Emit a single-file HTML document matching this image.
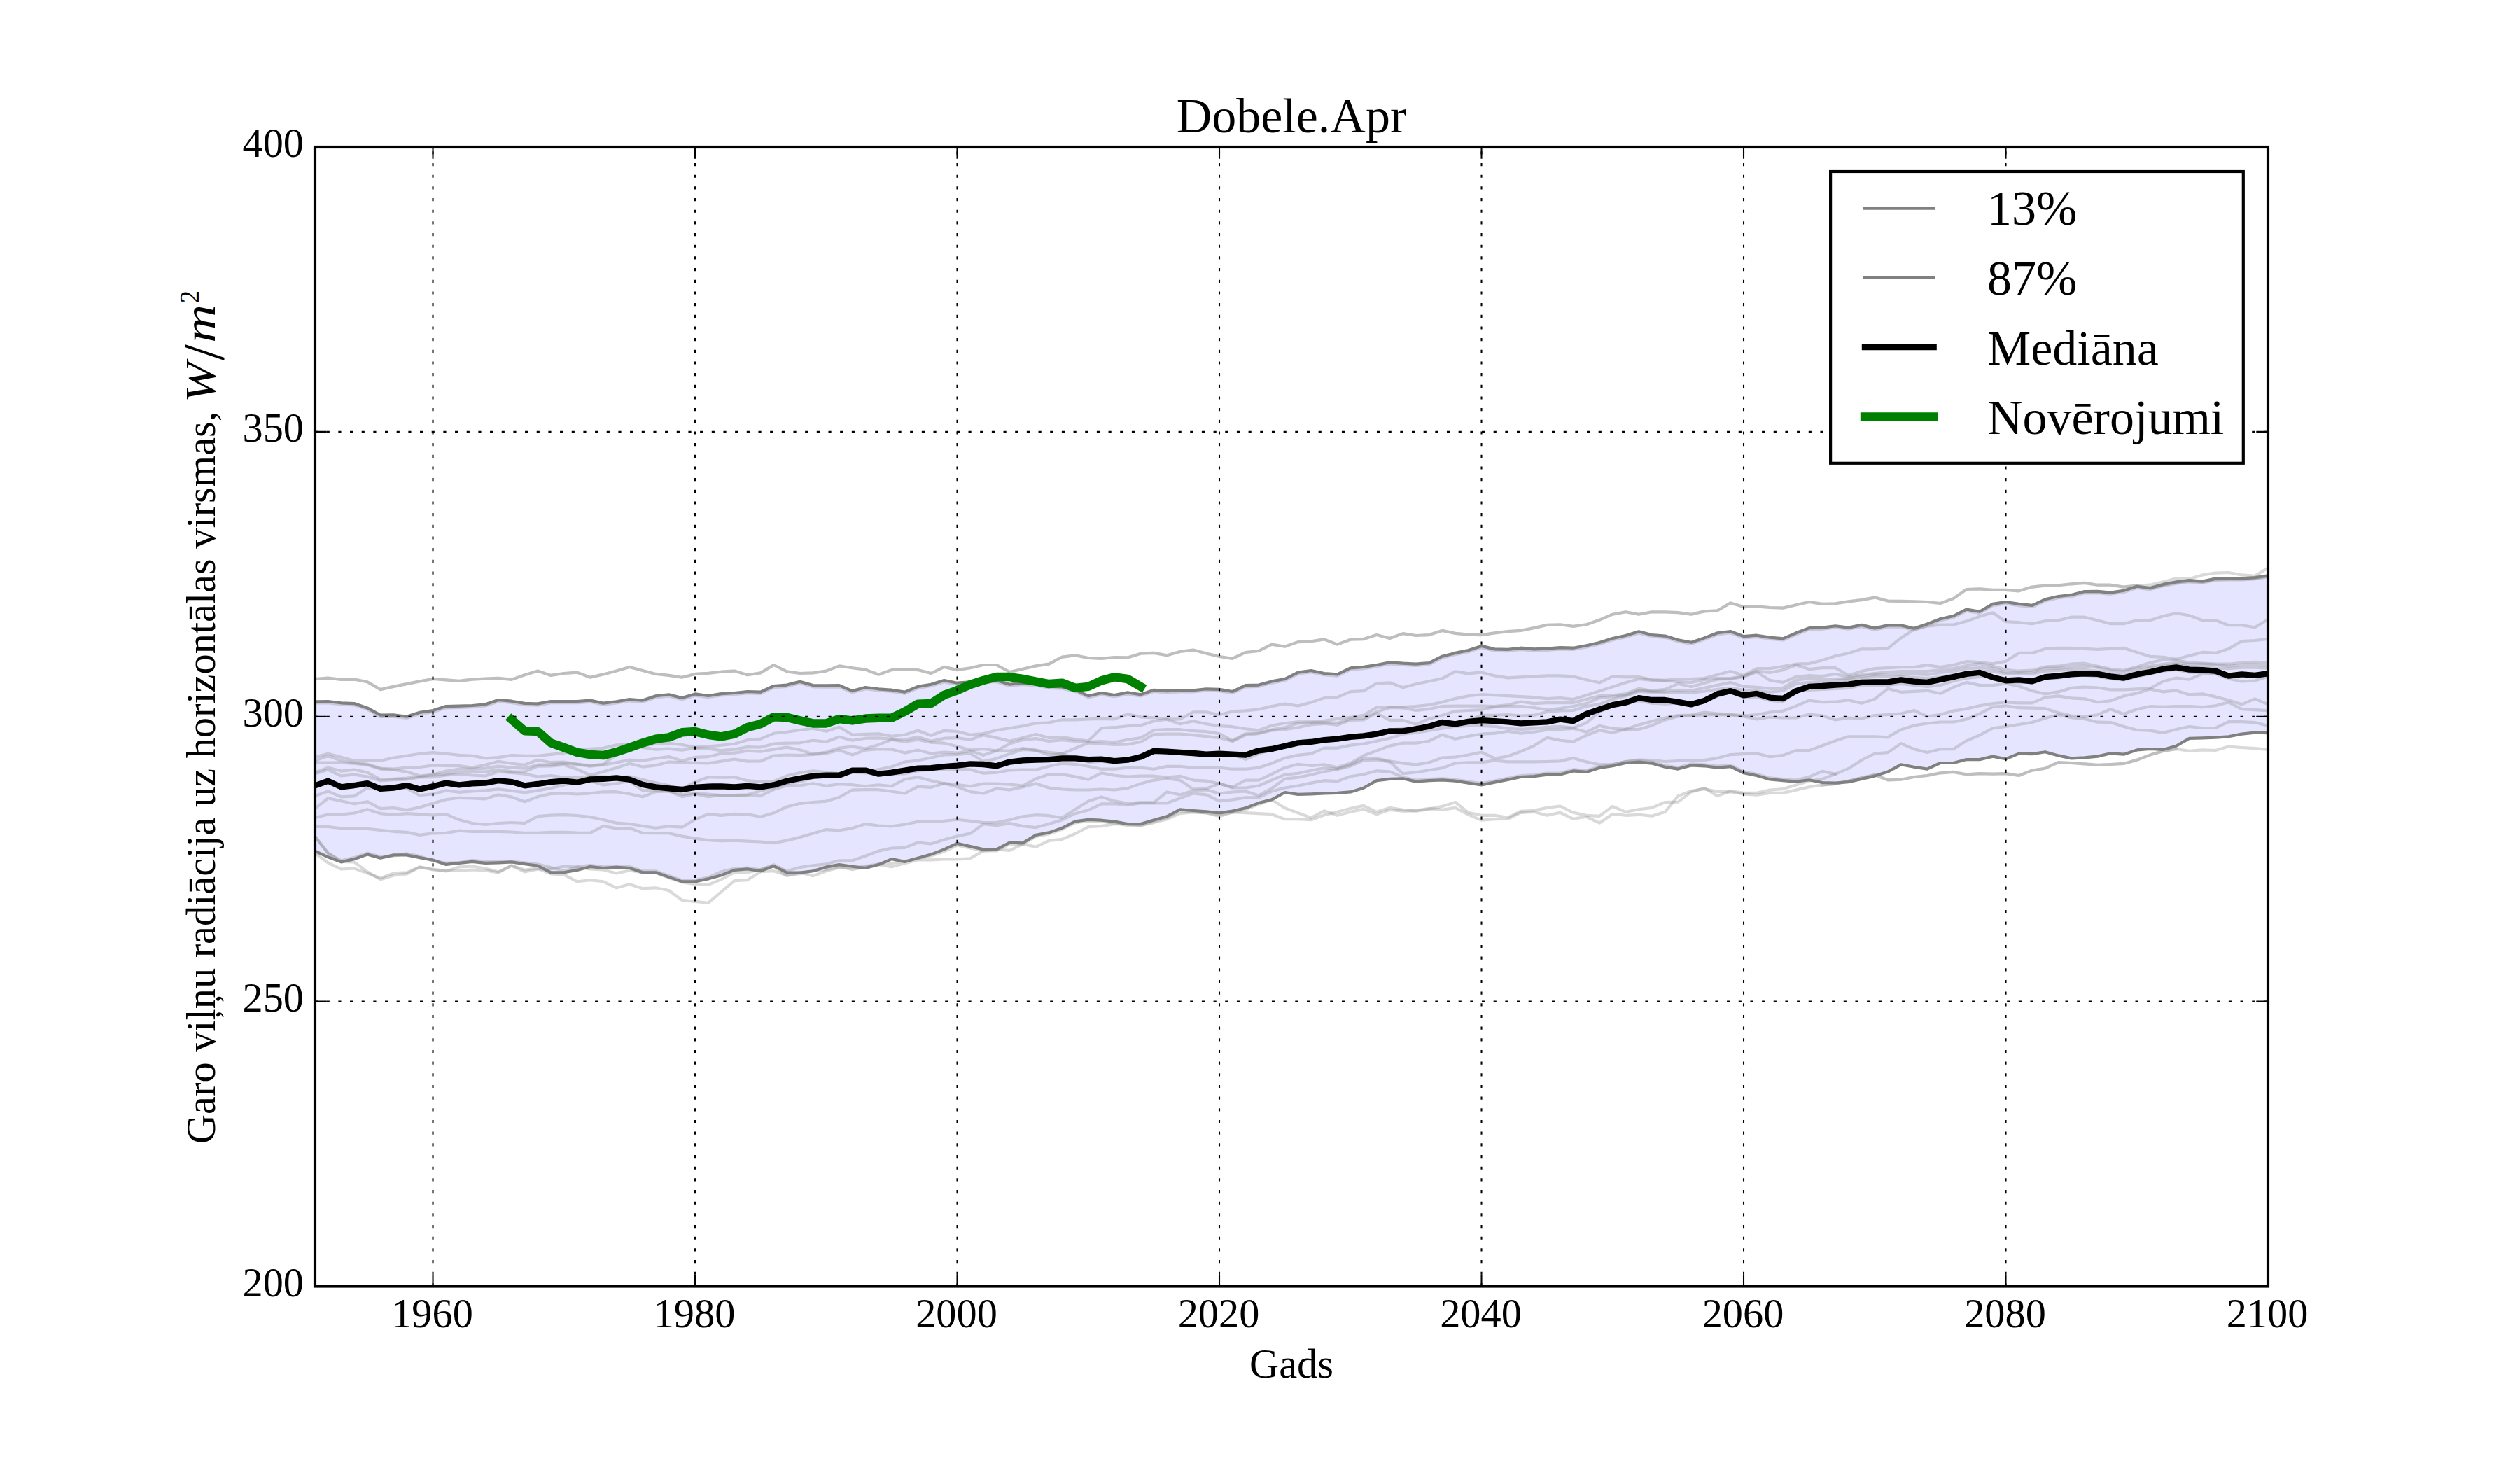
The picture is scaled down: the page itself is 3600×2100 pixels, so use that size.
<!DOCTYPE html>
<html lang="lv"><head><meta charset="utf-8"><title>Dobele.Apr</title>
<style>
html,body{margin:0;padding:0;background:#fff;}
body{width:3600px;height:2100px;overflow:hidden;}
svg{display:block;}
text{font-family:"Liberation Serif","DejaVu Serif",serif;fill:#000;}
.t14{font-size:58.33px;}
.t16{font-size:70px;}
.grid{stroke:#000;stroke-width:2.08;stroke-dasharray:4.17 12.5;fill:none;}
.tick{stroke:#000;stroke-width:2.08;fill:none;}
.faint{stroke:#808080;stroke-opacity:0.3;stroke-width:4.17;fill:none;stroke-linejoin:round;stroke-linecap:square;}
.bound{stroke:#808080;stroke-width:4.17;fill:none;stroke-linejoin:round;stroke-linecap:square;}
</style></head><body>
<svg width="3600" height="2100" viewBox="0 0 3600 2100">
<rect x="0" y="0" width="3600" height="2100" fill="#fff"/>
<defs><clipPath id="ax"><rect x="450" y="210" width="2790" height="1627.5"/></clipPath></defs>
<g clip-path="url(#ax)">
<polygon points="450.0,1002.3 468.7,1002.0 487.4,1004.3 506.2,1005.1 524.9,1011.4 543.6,1021.7 562.3,1021.4 581.1,1023.7 599.8,1017.7 618.5,1015.1 637.2,1009.1 656.0,1008.6 674.7,1008.0 693.4,1006.3 712.1,1000.0 730.9,1001.7 749.6,1004.9 768.3,1005.4 787.0,1002.0 805.8,1002.0 824.5,1002.0 843.2,1000.6 861.9,1004.6 880.7,1002.3 899.4,999.1 918.1,1000.6 936.8,994.3 955.6,992.3 974.3,997.1 993.0,991.4 1011.7,994.0 1030.5,991.1 1049.2,990.0 1067.9,988.0 1086.6,988.6 1105.4,980.0 1124.1,978.6 1142.8,973.7 1161.5,979.1 1180.3,979.4 1199.0,979.1 1217.7,987.1 1236.4,982.0 1255.2,984.3 1273.9,985.7 1292.6,988.6 1311.3,980.9 1330.1,977.7 1348.8,972.0 1367.5,975.7 1386.2,974.3 1405.0,972.0 1423.7,972.0 1442.4,977.7 1461.1,975.7 1479.9,977.1 1498.6,980.6 1517.3,981.4 1536.0,985.7 1554.8,994.2 1573.5,990.0 1592.2,993.0 1610.9,989.4 1629.7,992.2 1648.4,985.8 1667.1,987.2 1685.8,986.3 1704.6,986.3 1723.3,984.3 1742.0,984.9 1760.7,988.0 1779.5,979.1 1798.2,978.6 1816.9,973.4 1835.6,970.0 1854.4,960.6 1873.1,958.0 1891.8,962.0 1910.5,963.4 1929.3,954.3 1948.0,952.9 1966.7,950.0 1985.4,946.3 2004.2,947.7 2022.9,948.6 2041.6,947.1 2060.3,937.7 2079.1,932.9 2097.8,929.1 2116.5,922.9 2135.2,927.4 2154.0,927.9 2172.7,925.7 2191.4,927.4 2210.1,926.6 2228.9,925.1 2247.6,925.7 2266.3,922.3 2285.0,918.0 2303.8,912.0 2322.5,908.0 2341.2,902.3 2359.9,907.1 2378.7,908.6 2397.4,914.3 2416.1,917.7 2434.8,911.4 2453.6,904.3 2472.3,902.0 2491.0,909.1 2509.7,907.7 2528.5,910.6 2547.2,912.3 2565.9,904.3 2584.6,897.1 2603.4,896.6 2622.1,894.3 2640.8,896.6 2659.5,892.9 2678.3,897.4 2697.0,893.4 2715.7,893.4 2734.4,897.7 2753.2,891.4 2771.9,884.3 2790.6,880.0 2809.3,870.6 2828.1,873.7 2846.8,862.9 2865.5,860.0 2884.2,862.9 2903.0,864.9 2921.7,856.3 2940.4,852.0 2959.1,850.0 2977.9,845.1 2996.6,844.9 3015.3,846.6 3034.0,843.7 3052.8,837.7 3071.5,840.0 3090.2,834.9 3108.9,831.4 3127.7,829.1 3146.4,830.6 3165.1,826.6 3183.8,826.3 3202.6,826.3 3221.3,825.1 3240.0,822.3 3240.0,1047.1 3221.3,1046.6 3202.6,1048.6 3183.8,1052.3 3165.1,1053.7 3146.4,1054.3 3127.7,1054.9 3108.9,1065.7 3090.2,1070.9 3071.5,1070.0 3052.8,1071.4 3034.0,1077.7 3015.3,1076.3 2996.6,1080.6 2977.9,1082.3 2959.1,1083.4 2940.4,1079.4 2921.7,1074.3 2903.0,1077.1 2884.2,1076.6 2865.5,1084.3 2846.8,1080.6 2828.1,1085.1 2809.3,1085.1 2790.6,1090.0 2771.9,1090.0 2753.2,1098.6 2734.4,1095.7 2715.7,1092.3 2697.0,1102.6 2678.3,1108.6 2659.5,1112.9 2640.8,1117.1 2622.1,1118.6 2603.4,1118.0 2584.6,1114.3 2565.9,1116.6 2547.2,1115.1 2528.5,1113.4 2509.7,1108.0 2491.0,1104.3 2472.3,1095.1 2453.6,1096.6 2434.8,1094.3 2416.1,1093.4 2397.4,1098.6 2378.7,1095.7 2359.9,1090.6 2341.2,1088.6 2322.5,1090.0 2303.8,1094.3 2285.0,1097.1 2266.3,1102.9 2247.6,1101.4 2228.9,1106.6 2210.1,1106.6 2191.4,1109.1 2172.7,1110.0 2154.0,1113.9 2135.2,1117.6 2116.5,1121.4 2097.8,1118.6 2079.1,1115.7 2060.3,1114.3 2041.6,1115.1 2022.9,1116.6 2004.2,1112.3 1985.4,1112.9 1966.7,1115.1 1948.0,1125.7 1929.3,1131.4 1910.5,1132.9 1891.8,1133.4 1873.1,1134.3 1854.4,1134.9 1835.6,1132.0 1816.9,1142.3 1798.2,1147.1 1779.5,1154.3 1760.7,1158.6 1742.0,1161.4 1723.3,1159.4 1704.6,1158.0 1685.8,1156.3 1667.1,1166.3 1648.4,1171.4 1629.7,1177.1 1610.9,1177.1 1592.2,1173.6 1573.5,1171.7 1554.8,1170.9 1536.0,1173.4 1517.3,1182.9 1498.6,1189.4 1479.9,1192.9 1461.1,1204.3 1442.4,1203.7 1423.7,1213.4 1405.0,1213.4 1386.2,1209.1 1367.5,1204.9 1348.8,1213.4 1330.1,1220.6 1311.3,1225.7 1292.6,1230.9 1273.9,1227.1 1255.2,1235.1 1236.4,1240.0 1217.7,1237.7 1199.0,1235.1 1180.3,1238.6 1161.5,1244.3 1142.8,1246.6 1124.1,1246.3 1105.4,1237.1 1086.6,1244.3 1067.9,1241.4 1049.2,1242.9 1030.5,1250.3 1011.7,1255.4 993.0,1259.4 974.3,1259.4 955.6,1252.9 936.8,1246.3 918.1,1246.3 899.4,1240.0 880.7,1238.6 861.9,1240.0 843.2,1238.0 824.5,1242.9 805.8,1246.3 787.0,1246.3 768.3,1236.6 749.6,1234.3 730.9,1231.4 712.1,1232.3 693.4,1232.9 674.7,1230.9 656.0,1232.9 637.2,1234.9 618.5,1228.6 599.8,1225.1 581.1,1221.4 562.3,1221.4 543.6,1225.7 524.9,1220.6 506.2,1227.1 487.4,1231.4 468.7,1224.3 450.0,1215.7" fill="#0000ff" fill-opacity="0.1" stroke="none"/>
<path class="faint" d="M450.0,1081.7 L468.7,1076.8 L487.4,1081.7 L506.2,1086.7 L524.9,1086.7 L543.6,1086.7 L562.3,1082.5 L581.1,1079.8 L599.8,1076.8 L618.5,1075.2 L637.2,1076.8 L656.0,1078.9 L674.7,1079.8 L693.4,1083.3 L712.1,1082.1 L730.9,1079.1 L749.6,1079.8 L768.3,1079.8 L787.0,1077.9 L805.8,1075.8 L824.5,1072.2 L843.2,1069.8 L861.9,1068.8 L880.7,1064.4 L899.4,1063.9 L918.1,1065.5 L936.8,1062.7 L955.6,1061.7 L974.3,1064.0 L993.0,1067.6 L1011.7,1066.6 L1030.5,1064.7 L1049.2,1062.7 L1067.9,1057.2 L1086.6,1055.7 L1105.4,1047.8 L1124.1,1045.8 L1142.8,1043.0 L1161.5,1040.8 L1180.3,1044.8 L1199.0,1038.8 L1217.7,1049.8 L1236.4,1048.8 L1255.2,1048.4 L1273.9,1051.7 L1292.6,1049.8 L1311.3,1043.8 L1330.1,1050.8 L1348.8,1043.8 L1367.5,1045.0 L1386.2,1049.8 L1405.0,1048.1 L1423.7,1043.2 L1442.4,1040.2 L1461.1,1037.2 L1479.9,1033.3 L1498.6,1032.3 L1517.3,1028.3 L1536.0,1028.3 L1554.8,1027.3 L1573.5,1026.9 L1592.2,1027.3 L1610.9,1020.4 L1629.7,1024.3 L1648.4,1025.3 L1667.1,1027.3 L1685.8,1027.3 L1704.6,1017.4 L1723.3,1017.4 L1742.0,1021.3 L1760.7,1016.4 L1779.5,1015.4 L1798.2,1013.4 L1816.9,1009.1 L1835.6,1005.5 L1854.4,1008.5 L1873.1,1003.5 L1891.8,997.1 L1910.5,996.2 L1929.3,988.2 L1948.0,987.2 L1966.7,976.3 L1985.4,975.3 L2004.2,982.3 L2022.9,977.3 L2041.6,973.3 L2060.3,969.4 L2079.1,959.4 L2097.8,962.4 L2116.5,960.4 L2135.2,965.4 L2154.0,968.4 L2172.7,967.4 L2191.4,966.4 L2210.1,965.4 L2228.9,965.4 L2247.6,966.4 L2266.3,971.3 L2285.0,975.3 L2303.8,966.4 L2322.5,967.4 L2341.2,967.0 L2359.9,971.0 L2378.7,971.9 L2397.4,970.0 L2416.1,970.0 L2434.8,969.0 L2453.6,964.0 L2472.3,959.0 L2491.0,965.0 L2509.7,955.1 L2528.5,955.1 L2547.2,952.1 L2565.9,948.7 L2584.6,948.1 L2603.4,943.2 L2622.1,937.2 L2640.8,933.3 L2659.5,927.3 L2678.3,927.3 L2697.0,926.3 L2715.7,911.4 L2734.4,899.5 L2753.2,894.6 L2771.9,892.6 L2790.6,892.6 L2809.3,887.6 L2828.1,880.7 L2846.8,875.3 L2865.5,888.2 L2884.2,889.2 L2903.0,891.2 L2921.7,887.2 L2940.4,886.2 L2959.1,881.7 L2977.9,881.7 L2996.6,886.2 L3015.3,891.2 L3034.0,891.2 L3052.8,886.2 L3071.5,886.2 L3090.2,880.3 L3108.9,876.3 L3127.7,879.3 L3146.4,886.2 L3165.1,886.2 L3183.8,893.2 L3202.6,893.2 L3221.3,896.2 L3240.0,885.2"/>
<path class="faint" d="M450.0,1086.7 L468.7,1079.8 L487.4,1086.7 L506.2,1089.7 L524.9,1091.7 L543.6,1097.6 L562.3,1098.6 L581.1,1096.6 L599.8,1096.0 L618.5,1093.4 L637.2,1094.0 L656.0,1094.1 L674.7,1096.6 L693.4,1092.7 L712.1,1087.7 L730.9,1090.7 L749.6,1092.7 L768.3,1085.7 L787.0,1089.2 L805.8,1088.7 L824.5,1091.5 L843.2,1093.7 L861.9,1091.7 L880.7,1078.3 L899.4,1065.9 L918.1,1067.9 L936.8,1070.6 L955.6,1069.6 L974.3,1071.6 L993.0,1068.6 L1011.7,1069.6 L1030.5,1072.2 L1049.2,1070.6 L1067.9,1067.1 L1086.6,1067.6 L1105.4,1062.7 L1124.1,1061.7 L1142.8,1061.3 L1161.5,1057.7 L1180.3,1059.7 L1199.0,1052.7 L1217.7,1057.7 L1236.4,1054.7 L1255.2,1054.3 L1273.9,1055.7 L1292.6,1056.7 L1311.3,1052.7 L1330.1,1058.7 L1348.8,1054.7 L1367.5,1054.1 L1386.2,1056.7 L1405.0,1050.1 L1423.7,1054.1 L1442.4,1058.7 L1461.1,1054.1 L1479.9,1049.1 L1498.6,1054.1 L1517.3,1053.1 L1536.0,1056.1 L1554.8,1058.5 L1573.5,1040.2 L1592.2,1039.2 L1610.9,1037.2 L1629.7,1036.2 L1648.4,1030.3 L1667.1,1027.7 L1685.8,1034.2 L1704.6,1030.3 L1723.3,1034.2 L1742.0,1037.2 L1760.7,1038.2 L1779.5,1041.2 L1798.2,1043.2 L1816.9,1036.5 L1835.6,1033.3 L1854.4,1031.3 L1873.1,1031.3 L1891.8,1029.9 L1910.5,1026.9 L1929.3,1024.9 L1948.0,1021.9 L1966.7,1010.6 L1985.4,1010.0 L2004.2,1010.0 L2022.9,1009.0 L2041.6,1007.1 L2060.3,1003.1 L2079.1,998.1 L2097.8,994.2 L2116.5,992.2 L2135.2,993.2 L2154.0,994.2 L2172.7,995.2 L2191.4,996.2 L2210.1,998.1 L2228.9,997.1 L2247.6,999.1 L2266.3,993.2 L2285.0,987.2 L2303.8,981.3 L2322.5,975.3 L2341.2,970.0 L2359.9,971.9 L2378.7,972.5 L2397.4,973.9 L2416.1,974.9 L2434.8,971.0 L2453.6,969.0 L2472.3,969.0 L2491.0,966.0 L2509.7,958.7 L2528.5,961.0 L2547.2,957.1 L2565.9,950.3 L2584.6,956.1 L2603.4,954.1 L2622.1,954.1 L2640.8,965.0 L2659.5,959.0 L2678.3,955.1 L2697.0,954.1 L2715.7,953.1 L2734.4,953.1 L2753.2,950.1 L2771.9,953.1 L2790.6,950.1 L2809.3,945.2 L2828.1,946.2 L2846.8,948.3 L2865.5,944.8 L2884.2,932.9 L2903.0,932.9 L2921.7,926.9 L2940.4,925.9 L2959.1,925.9 L2977.9,926.9 L2996.6,927.9 L3015.3,926.9 L3034.0,925.9 L3052.8,931.9 L3071.5,937.8 L3090.2,938.8 L3108.9,941.8 L3127.7,936.8 L3146.4,931.9 L3165.1,932.9 L3183.8,926.9 L3202.6,916.0 L3221.3,915.0 L3240.0,913.0"/>
<path class="faint" d="M450.0,1089.7 L468.7,1089.7 L487.4,1089.7 L506.2,1090.7 L524.9,1092.7 L543.6,1098.6 L562.3,1099.8 L581.1,1102.6 L599.8,1108.5 L618.5,1106.5 L637.2,1101.6 L656.0,1098.7 L674.7,1098.6 L693.4,1097.6 L712.1,1094.6 L730.9,1096.5 L749.6,1097.6 L768.3,1092.7 L787.0,1092.3 L805.8,1090.7 L824.5,1092.1 L843.2,1094.6 L861.9,1092.7 L880.7,1089.4 L899.4,1085.7 L918.1,1086.7 L936.8,1083.5 L955.6,1081.1 L974.3,1087.1 L993.0,1081.9 L1011.7,1081.1 L1030.5,1076.4 L1049.2,1075.6 L1067.9,1072.6 L1086.6,1073.6 L1105.4,1070.6 L1124.1,1067.6 L1142.8,1071.3 L1161.5,1077.5 L1180.3,1074.6 L1199.0,1068.6 L1217.7,1066.6 L1236.4,1069.6 L1255.2,1063.9 L1273.9,1056.7 L1292.6,1059.7 L1311.3,1056.7 L1330.1,1060.7 L1348.8,1061.7 L1367.5,1066.3 L1386.2,1071.6 L1405.0,1070.0 L1423.7,1072.5 L1442.4,1062.6 L1461.1,1057.1 L1479.9,1055.1 L1498.6,1059.0 L1517.3,1057.1 L1536.0,1059.0 L1554.8,1060.0 L1573.5,1059.0 L1592.2,1060.6 L1610.9,1056.7 L1629.7,1054.1 L1648.4,1043.2 L1667.1,1042.2 L1685.8,1042.2 L1704.6,1044.2 L1723.3,1045.2 L1742.0,1048.1 L1760.7,1058.1 L1779.5,1048.1 L1798.2,1047.1 L1816.9,1042.4 L1835.6,1039.2 L1854.4,1033.3 L1873.1,1032.3 L1891.8,1032.3 L1910.5,1032.9 L1929.3,1026.9 L1948.0,1025.9 L1966.7,1017.0 L1985.4,1011.0 L2004.2,1011.4 L2022.9,1015.0 L2041.6,1013.0 L2060.3,1009.0 L2079.1,1008.7 L2097.8,1008.7 L2116.5,1008.7 L2135.2,1009.0 L2154.0,1007.1 L2172.7,1002.5 L2191.4,1005.1 L2210.1,1004.1 L2228.9,1004.1 L2247.6,1004.1 L2266.3,999.1 L2285.0,994.2 L2303.8,993.2 L2322.5,991.2 L2341.2,983.8 L2359.9,986.8 L2378.7,984.8 L2397.4,976.9 L2416.1,980.9 L2434.8,975.9 L2453.6,970.4 L2472.3,970.0 L2491.0,967.0 L2509.7,960.0 L2528.5,971.9 L2547.2,974.9 L2565.9,967.0 L2584.6,965.0 L2603.4,966.0 L2622.1,963.0 L2640.8,967.0 L2659.5,964.0 L2678.3,962.0 L2697.0,960.0 L2715.7,959.0 L2734.4,959.0 L2753.2,959.0 L2771.9,957.1 L2790.6,955.1 L2809.3,951.1 L2828.1,948.1 L2846.8,951.7 L2865.5,956.7 L2884.2,958.7 L2903.0,957.7 L2921.7,952.7 L2940.4,951.7 L2959.1,948.7 L2977.9,947.7 L2996.6,951.7 L3015.3,955.7 L3034.0,957.7 L3052.8,952.7 L3071.5,946.7 L3090.2,942.8 L3108.9,942.8 L3127.7,946.7 L3146.4,947.7 L3165.1,948.7 L3183.8,948.7 L3202.6,946.7 L3221.3,945.8 L3240.0,946.7"/>
<path class="faint" d="M450.0,1103.6 L468.7,1096.6 L487.4,1101.6 L506.2,1099.6 L524.9,1103.6 L543.6,1113.5 L562.3,1112.9 L581.1,1111.5 L599.8,1109.5 L618.5,1107.3 L637.2,1105.6 L656.0,1103.2 L674.7,1102.6 L693.4,1102.6 L712.1,1099.6 L730.9,1102.4 L749.6,1102.6 L768.3,1094.6 L787.0,1094.5 L805.8,1092.7 L824.5,1099.0 L843.2,1107.5 L861.9,1102.6 L880.7,1097.0 L899.4,1090.7 L918.1,1095.6 L936.8,1093.4 L955.6,1088.5 L974.3,1089.4 L993.0,1089.8 L1011.7,1090.4 L1030.5,1087.6 L1049.2,1084.5 L1067.9,1087.6 L1086.6,1087.5 L1105.4,1079.5 L1124.1,1078.5 L1142.8,1079.2 L1161.5,1077.9 L1180.3,1076.5 L1199.0,1071.6 L1217.7,1078.5 L1236.4,1071.6 L1255.2,1070.2 L1273.9,1070.6 L1292.6,1075.6 L1311.3,1071.6 L1330.1,1076.5 L1348.8,1074.6 L1367.5,1075.7 L1386.2,1072.6 L1405.0,1078.9 L1423.7,1072.5 L1442.4,1072.5 L1461.1,1069.0 L1479.9,1071.9 L1498.6,1074.9 L1517.3,1076.9 L1536.0,1069.0 L1554.8,1061.4 L1573.5,1062.6 L1592.2,1064.0 L1610.9,1063.4 L1629.7,1060.0 L1648.4,1049.1 L1667.1,1048.7 L1685.8,1048.7 L1704.6,1050.1 L1723.3,1052.1 L1742.0,1054.1 L1760.7,1059.0 L1779.5,1050.1 L1798.2,1048.1 L1816.9,1043.5 L1835.6,1042.2 L1854.4,1039.2 L1873.1,1035.2 L1891.8,1033.8 L1910.5,1035.8 L1929.3,1028.9 L1948.0,1028.5 L1966.7,1019.0 L1985.4,1028.9 L2004.2,1028.9 L2022.9,1034.8 L2041.6,1026.9 L2060.3,1021.9 L2079.1,1016.0 L2097.8,1015.0 L2116.5,1014.0 L2135.2,1010.0 L2154.0,1009.0 L2172.7,1009.0 L2191.4,1011.0 L2210.1,1014.0 L2228.9,1012.0 L2247.6,1009.0 L2266.3,1005.1 L2285.0,997.1 L2303.8,995.2 L2322.5,993.2 L2341.2,986.2 L2359.9,987.8 L2378.7,987.8 L2397.4,985.8 L2416.1,986.8 L2434.8,982.9 L2453.6,978.9 L2472.3,974.9 L2491.0,980.9 L2509.7,981.9 L2528.5,983.8 L2547.2,982.9 L2565.9,971.9 L2584.6,969.0 L2603.4,970.0 L2622.1,970.0 L2640.8,969.0 L2659.5,966.0 L2678.3,964.0 L2697.0,963.0 L2715.7,964.0 L2734.4,963.0 L2753.2,964.0 L2771.9,961.0 L2790.6,959.0 L2809.3,955.1 L2828.1,954.1 L2846.8,954.7 L2865.5,960.6 L2884.2,960.6 L2903.0,960.2 L2921.7,954.7 L2940.4,954.7 L2959.1,953.1 L2977.9,951.7 L2996.6,953.7 L3015.3,958.1 L3034.0,959.6 L3052.8,954.7 L3071.5,951.7 L3090.2,948.7 L3108.9,946.7 L3127.7,949.1 L3146.4,948.7 L3165.1,949.7 L3183.8,951.7 L3202.6,949.7 L3221.3,949.7 L3240.0,950.7"/>
<path class="faint" d="M450.0,1105.6 L468.7,1099.6 L487.4,1108.5 L506.2,1106.5 L524.9,1109.5 L543.6,1115.5 L562.3,1114.1 L581.1,1113.5 L599.8,1110.5 L618.5,1110.2 L637.2,1107.5 L656.0,1106.0 L674.7,1107.5 L693.4,1108.5 L712.1,1102.6 L730.9,1104.0 L749.6,1105.6 L768.3,1109.5 L787.0,1108.0 L805.8,1110.5 L824.5,1110.8 L843.2,1109.5 L861.9,1109.5 L880.7,1110.7 L899.4,1109.5 L918.1,1113.9 L936.8,1118.2 L955.6,1122.2 L974.3,1127.1 L993.0,1117.2 L1011.7,1110.3 L1030.5,1110.6 L1049.2,1110.3 L1067.9,1115.2 L1086.6,1116.8 L1105.4,1116.2 L1124.1,1108.3 L1142.8,1104.0 L1161.5,1101.3 L1180.3,1103.3 L1199.0,1105.3 L1217.7,1099.4 L1236.4,1101.3 L1255.2,1099.2 L1273.9,1095.4 L1292.6,1088.5 L1311.3,1086.5 L1330.1,1082.5 L1348.8,1078.5 L1367.5,1078.0 L1386.2,1076.5 L1405.0,1087.8 L1423.7,1083.8 L1442.4,1076.9 L1461.1,1071.0 L1479.9,1071.9 L1498.6,1078.9 L1517.3,1076.9 L1536.0,1082.9 L1554.8,1088.8 L1573.5,1087.8 L1592.2,1089.8 L1610.9,1085.8 L1629.7,1082.9 L1648.4,1074.9 L1667.1,1074.9 L1685.8,1075.9 L1704.6,1076.9 L1723.3,1076.9 L1742.0,1076.9 L1760.7,1077.9 L1779.5,1084.8 L1798.2,1076.9 L1816.9,1070.8 L1835.6,1064.0 L1854.4,1059.0 L1873.1,1057.1 L1891.8,1055.7 L1910.5,1053.7 L1929.3,1050.7 L1948.0,1048.7 L1966.7,1046.7 L1985.4,1042.8 L2004.2,1040.8 L2022.9,1040.8 L2041.6,1036.8 L2060.3,1035.8 L2079.1,1034.8 L2097.8,1028.9 L2116.5,1021.9 L2135.2,1021.9 L2154.0,1021.0 L2172.7,1022.5 L2191.4,1021.9 L2210.1,1017.0 L2228.9,1015.4 L2247.6,1015.0 L2266.3,1009.0 L2285.0,1006.1 L2303.8,999.1 L2322.5,994.2 L2341.2,987.8 L2359.9,988.8 L2378.7,989.8 L2397.4,988.8 L2416.1,989.8 L2434.8,987.8 L2453.6,984.8 L2472.3,982.9 L2491.0,985.8 L2509.7,986.8 L2528.5,988.8 L2547.2,986.8 L2565.9,976.9 L2584.6,974.9 L2603.4,973.9 L2622.1,972.5 L2640.8,971.0 L2659.5,969.0 L2678.3,967.0 L2697.0,967.0 L2715.7,967.0 L2734.4,968.0 L2753.2,969.0 L2771.9,967.0 L2790.6,964.0 L2809.3,961.0 L2828.1,959.0 L2846.8,958.7 L2865.5,962.6 L2884.2,962.6 L2903.0,963.0 L2921.7,958.7 L2940.4,957.7 L2959.1,957.1 L2977.9,956.7 L2996.6,958.7 L3015.3,962.6 L3034.0,964.6 L3052.8,958.7 L3071.5,954.3 L3090.2,951.7 L3108.9,948.7 L3127.7,952.7 L3146.4,953.7 L3165.1,954.7 L3183.8,955.1 L3202.6,953.7 L3221.3,953.7 L3240.0,954.7"/>
<path class="faint" d="M450.0,1137.3 L468.7,1130.4 L487.4,1138.3 L506.2,1137.3 L524.9,1125.4 L543.6,1128.4 L562.3,1127.2 L581.1,1126.4 L599.8,1136.3 L618.5,1134.3 L637.2,1129.4 L656.0,1131.8 L674.7,1130.4 L693.4,1129.4 L712.1,1127.4 L730.9,1129.7 L749.6,1132.3 L768.3,1129.4 L787.0,1126.1 L805.8,1121.4 L824.5,1116.5 L843.2,1115.5 L861.9,1121.4 L880.7,1119.4 L899.4,1115.7 L918.1,1129.4 L936.8,1128.7 L955.6,1130.1 L974.3,1135.1 L993.0,1133.1 L1011.7,1134.7 L1030.5,1136.0 L1049.2,1136.1 L1067.9,1135.3 L1086.6,1130.1 L1105.4,1125.2 L1124.1,1119.2 L1142.8,1116.7 L1161.5,1111.3 L1180.3,1107.3 L1199.0,1107.3 L1217.7,1103.3 L1236.4,1104.3 L1255.2,1103.9 L1273.9,1105.3 L1292.6,1105.3 L1311.3,1101.3 L1330.1,1099.4 L1348.8,1099.4 L1367.5,1098.9 L1386.2,1099.4 L1405.0,1104.7 L1423.7,1103.7 L1442.4,1100.3 L1461.1,1099.7 L1479.9,1099.7 L1498.6,1094.8 L1517.3,1090.8 L1536.0,1091.8 L1554.8,1094.8 L1573.5,1098.7 L1592.2,1098.7 L1610.9,1096.7 L1629.7,1096.7 L1648.4,1098.7 L1667.1,1094.8 L1685.8,1094.8 L1704.6,1096.7 L1723.3,1096.7 L1742.0,1096.7 L1760.7,1098.7 L1779.5,1098.7 L1798.2,1096.7 L1816.9,1090.5 L1835.6,1082.9 L1854.4,1078.9 L1873.1,1076.9 L1891.8,1068.6 L1910.5,1068.6 L1929.3,1064.6 L1948.0,1062.6 L1966.7,1058.7 L1985.4,1054.7 L2004.2,1048.7 L2022.9,1046.7 L2041.6,1043.8 L2060.3,1040.8 L2079.1,1037.8 L2097.8,1036.8 L2116.5,1036.8 L2135.2,1037.8 L2154.0,1040.8 L2172.7,1041.8 L2191.4,1040.8 L2210.1,1038.8 L2228.9,1037.8 L2247.6,1039.8 L2266.3,1032.9 L2285.0,1017.0 L2303.8,1009.0 L2322.5,1005.1 L2341.2,1001.1 L2359.9,1004.7 L2378.7,1005.7 L2397.4,1004.7 L2416.1,1008.7 L2434.8,1002.7 L2453.6,994.8 L2472.3,988.8 L2491.0,996.7 L2509.7,995.8 L2528.5,1000.7 L2547.2,1002.7 L2565.9,984.8 L2584.6,985.8 L2603.4,984.8 L2622.1,983.8 L2640.8,982.9 L2659.5,978.9 L2678.3,979.9 L2697.0,978.9 L2715.7,976.9 L2734.4,978.9 L2753.2,980.9 L2771.9,978.9 L2790.6,972.9 L2809.3,969.0 L2828.1,967.0 L2846.8,967.0 L2865.5,974.5 L2884.2,975.5 L2903.0,974.5 L2921.7,969.6 L2940.4,968.6 L2959.1,964.6 L2977.9,964.6 L2996.6,966.6 L3015.3,969.6 L3034.0,971.5 L3052.8,966.6 L3071.5,962.6 L3090.2,958.7 L3108.9,956.7 L3127.7,960.6 L3146.4,960.6 L3165.1,961.6 L3183.8,967.6 L3202.6,964.6 L3221.3,964.6 L3240.0,964.6"/>
<path class="faint" d="M450.0,1155.2 L468.7,1140.3 L487.4,1144.2 L506.2,1148.2 L524.9,1145.2 L543.6,1155.2 L562.3,1154.1 L581.1,1157.1 L599.8,1153.2 L618.5,1147.5 L637.2,1142.3 L656.0,1139.8 L674.7,1140.3 L693.4,1141.3 L712.1,1135.3 L730.9,1138.6 L749.6,1145.2 L768.3,1138.3 L787.0,1133.9 L805.8,1133.3 L824.5,1134.5 L843.2,1133.3 L861.9,1131.3 L880.7,1131.2 L899.4,1134.3 L918.1,1138.3 L936.8,1131.1 L955.6,1130.3 L974.3,1138.1 L993.0,1134.1 L1011.7,1138.1 L1030.5,1136.0 L1049.2,1136.1 L1067.9,1136.1 L1086.6,1137.1 L1105.4,1128.1 L1124.1,1122.2 L1142.8,1122.3 L1161.5,1119.2 L1180.3,1122.8 L1199.0,1120.2 L1217.7,1121.2 L1236.4,1123.2 L1255.2,1121.3 L1273.9,1123.2 L1292.6,1113.3 L1311.3,1110.3 L1330.1,1115.2 L1348.8,1119.2 L1367.5,1121.0 L1386.2,1123.2 L1405.0,1119.6 L1423.7,1119.6 L1442.4,1120.6 L1461.1,1122.5 L1479.9,1112.6 L1498.6,1106.3 L1517.3,1106.3 L1536.0,1109.6 L1554.8,1113.6 L1573.5,1104.3 L1592.2,1107.7 L1610.9,1109.6 L1629.7,1108.7 L1648.4,1108.7 L1667.1,1110.6 L1685.8,1108.7 L1704.6,1114.6 L1723.3,1115.6 L1742.0,1119.6 L1760.7,1124.5 L1779.5,1114.6 L1798.2,1114.6 L1816.9,1105.9 L1835.6,1096.7 L1854.4,1091.8 L1873.1,1093.8 L1891.8,1092.4 L1910.5,1096.3 L1929.3,1090.4 L1948.0,1079.5 L1966.7,1072.5 L1985.4,1065.6 L2004.2,1061.6 L2022.9,1061.6 L2041.6,1058.7 L2060.3,1049.7 L2079.1,1055.7 L2097.8,1051.7 L2116.5,1048.7 L2135.2,1047.7 L2154.0,1044.8 L2172.7,1047.7 L2191.4,1045.8 L2210.1,1042.8 L2228.9,1041.8 L2247.6,1040.8 L2266.3,1045.8 L2285.0,1036.8 L2303.8,1040.8 L2322.5,1041.8 L2341.2,1035.4 L2359.9,1030.5 L2378.7,1025.5 L2397.4,1022.1 L2416.1,1021.5 L2434.8,1017.6 L2453.6,1019.6 L2472.3,1020.6 L2491.0,1022.5 L2509.7,1021.0 L2528.5,1017.6 L2547.2,1015.6 L2565.9,1008.7 L2584.6,1000.7 L2603.4,1003.1 L2622.1,1002.7 L2640.8,1000.3 L2659.5,1004.7 L2678.3,998.7 L2697.0,983.8 L2715.7,988.8 L2734.4,987.8 L2753.2,986.8 L2771.9,990.8 L2790.6,981.9 L2809.3,974.9 L2828.1,978.9 L2846.8,979.1 L2865.5,976.5 L2884.2,980.5 L2903.0,987.0 L2921.7,991.4 L2940.4,988.4 L2959.1,982.9 L2977.9,981.5 L2996.6,982.5 L3015.3,985.4 L3034.0,985.4 L3052.8,984.4 L3071.5,983.5 L3090.2,973.5 L3108.9,968.6 L3127.7,970.6 L3146.4,962.6 L3165.1,962.6 L3183.8,969.6 L3202.6,973.5 L3221.3,972.5 L3240.0,966.6"/>
<path class="faint" d="M450.0,1168.1 L468.7,1163.5 L487.4,1163.5 L506.2,1161.5 L524.9,1156.2 L543.6,1162.1 L562.3,1163.8 L581.1,1162.1 L599.8,1163.1 L618.5,1164.5 L637.2,1163.1 L656.0,1171.1 L674.7,1176.0 L693.4,1178.0 L712.1,1176.0 L730.9,1175.0 L749.6,1176.0 L768.3,1166.1 L787.0,1164.7 L805.8,1164.1 L824.5,1165.0 L843.2,1167.1 L861.9,1171.0 L880.7,1175.7 L899.4,1177.0 L918.1,1180.0 L936.8,1182.7 L955.6,1180.3 L974.3,1181.7 L993.0,1170.8 L1011.7,1162.9 L1030.5,1164.9 L1049.2,1162.9 L1067.9,1163.3 L1086.6,1166.8 L1105.4,1161.3 L1124.1,1152.5 L1142.8,1147.8 L1161.5,1146.0 L1180.3,1144.6 L1199.0,1139.0 L1217.7,1128.7 L1236.4,1128.1 L1255.2,1128.2 L1273.9,1130.7 L1292.6,1133.5 L1311.3,1123.6 L1330.1,1124.8 L1348.8,1119.2 L1367.5,1124.0 L1386.2,1131.1 L1405.0,1133.5 L1423.7,1126.5 L1442.4,1128.5 L1461.1,1124.5 L1479.9,1119.6 L1498.6,1125.5 L1517.3,1127.5 L1536.0,1128.5 L1554.8,1128.5 L1573.5,1127.5 L1592.2,1128.5 L1610.9,1126.1 L1629.7,1119.6 L1648.4,1114.6 L1667.1,1112.2 L1685.8,1114.6 L1704.6,1127.5 L1723.3,1126.5 L1742.0,1119.6 L1760.7,1125.5 L1779.5,1125.5 L1798.2,1122.5 L1816.9,1114.5 L1835.6,1106.7 L1854.4,1104.7 L1873.1,1100.7 L1891.8,1097.3 L1910.5,1098.3 L1929.3,1092.4 L1948.0,1083.5 L1966.7,1083.5 L1985.4,1087.4 L2004.2,1090.4 L2022.9,1092.4 L2041.6,1089.4 L2060.3,1082.5 L2079.1,1081.5 L2097.8,1078.5 L2116.5,1074.5 L2135.2,1083.5 L2154.0,1080.5 L2172.7,1073.5 L2191.4,1065.6 L2210.1,1053.7 L2228.9,1057.7 L2247.6,1059.6 L2266.3,1050.7 L2285.0,1043.2 L2303.8,1046.7 L2322.5,1041.8 L2341.2,1042.0 L2359.9,1036.4 L2378.7,1028.5 L2397.4,1023.5 L2416.1,1022.5 L2434.8,1021.5 L2453.6,1021.5 L2472.3,1021.5 L2491.0,1023.5 L2509.7,1027.5 L2528.5,1024.5 L2547.2,1025.5 L2565.9,1025.5 L2584.6,1020.6 L2603.4,1022.5 L2622.1,1028.5 L2640.8,1025.5 L2659.5,1026.5 L2678.3,1022.1 L2697.0,1021.0 L2715.7,1019.6 L2734.4,1015.0 L2753.2,1023.5 L2771.9,1021.0 L2790.6,1015.6 L2809.3,1012.6 L2828.1,1008.3 L2846.8,1005.3 L2865.5,1003.3 L2884.2,1004.3 L2903.0,1004.3 L2921.7,996.3 L2940.4,994.4 L2959.1,997.3 L2977.9,998.3 L2996.6,1003.3 L3015.3,1001.3 L3034.0,994.4 L3052.8,990.4 L3071.5,984.4 L3090.2,988.4 L3108.9,986.4 L3127.7,992.4 L3146.4,991.4 L3165.1,995.4 L3183.8,1000.3 L3202.6,1006.3 L3221.3,998.3 L3240.0,1006.3"/>
<path class="faint" d="M450.0,1181.0 L468.7,1181.0 L487.4,1183.3 L506.2,1183.9 L524.9,1183.9 L543.6,1185.9 L562.3,1187.8 L581.1,1188.9 L599.8,1192.9 L618.5,1190.3 L637.2,1189.9 L656.0,1186.7 L674.7,1187.9 L693.4,1187.9 L712.1,1187.9 L730.9,1188.5 L749.6,1189.9 L768.3,1189.9 L787.0,1188.8 L805.8,1188.9 L824.5,1189.7 L843.2,1189.9 L861.9,1180.0 L880.7,1183.4 L899.4,1182.9 L918.1,1189.9 L936.8,1190.2 L955.6,1190.2 L974.3,1194.6 L993.0,1197.6 L1011.7,1200.2 L1030.5,1201.2 L1049.2,1200.6 L1067.9,1201.6 L1086.6,1202.5 L1105.4,1204.1 L1124.1,1200.6 L1142.8,1196.1 L1161.5,1190.6 L1180.3,1185.1 L1199.0,1186.3 L1217.7,1183.1 L1236.4,1177.1 L1255.2,1179.5 L1273.9,1180.3 L1292.6,1177.7 L1311.3,1173.8 L1330.1,1173.8 L1348.8,1172.8 L1367.5,1170.8 L1386.2,1172.8 L1405.0,1175.1 L1423.7,1175.1 L1442.4,1171.2 L1461.1,1166.2 L1479.9,1164.2 L1498.6,1165.2 L1517.3,1168.2 L1536.0,1156.3 L1554.8,1144.4 L1573.5,1138.4 L1592.2,1144.4 L1610.9,1147.9 L1629.7,1146.3 L1648.4,1146.3 L1667.1,1131.5 L1685.8,1135.4 L1704.6,1129.5 L1723.3,1128.5 L1742.0,1133.5 L1760.7,1131.5 L1779.5,1130.5 L1798.2,1136.4 L1816.9,1126.3 L1835.6,1112.6 L1854.4,1110.6 L1873.1,1106.7 L1891.8,1102.3 L1910.5,1099.3 L1929.3,1094.4 L1948.0,1086.4 L1966.7,1085.4 L1985.4,1088.4 L2004.2,1105.3 L2022.9,1103.3 L2041.6,1100.3 L2060.3,1097.3 L2079.1,1090.4 L2097.8,1089.4 L2116.5,1089.4 L2135.2,1086.4 L2154.0,1088.4 L2172.7,1088.4 L2191.4,1088.4 L2210.1,1088.0 L2228.9,1087.4 L2247.6,1082.9 L2266.3,1088.4 L2285.0,1092.4 L2303.8,1092.3 L2322.5,1088.0 L2341.2,1085.6 L2359.9,1086.0 L2378.7,1088.0 L2397.4,1087.0 L2416.1,1087.0 L2434.8,1086.0 L2453.6,1083.1 L2472.3,1078.1 L2491.0,1077.1 L2509.7,1076.5 L2528.5,1081.1 L2547.2,1079.1 L2565.9,1072.1 L2584.6,1072.1 L2603.4,1065.2 L2622.1,1058.3 L2640.8,1052.3 L2659.5,1052.3 L2678.3,1052.3 L2697.0,1053.3 L2715.7,1042.4 L2734.4,1036.4 L2753.2,1033.5 L2771.9,1031.5 L2790.6,1031.5 L2809.3,1027.5 L2828.1,1019.6 L2846.8,1009.8 L2865.5,1008.3 L2884.2,1011.2 L2903.0,1011.6 L2921.7,1012.2 L2940.4,1018.2 L2959.1,1022.5 L2977.9,1024.1 L2996.6,1021.2 L3015.3,1013.2 L3034.0,1020.2 L3052.8,1013.2 L3071.5,1009.2 L3090.2,1009.8 L3108.9,1009.2 L3127.7,1009.2 L3146.4,1010.2 L3165.1,1008.3 L3183.8,1003.3 L3202.6,1013.2 L3221.3,1014.2 L3240.0,1015.2"/>
<path class="faint" d="M450.0,1194.8 L468.7,1218.7 L487.4,1229.4 L506.2,1225.1 L524.9,1218.6 L543.6,1223.7 L562.3,1222.8 L581.1,1219.4 L599.8,1223.1 L618.5,1229.6 L637.2,1232.9 L656.0,1232.2 L674.7,1228.9 L693.4,1230.9 L712.1,1230.3 L730.9,1230.8 L749.6,1232.3 L768.3,1234.6 L787.0,1239.0 L805.8,1244.3 L824.5,1238.4 L843.2,1236.0 L861.9,1238.0 L880.7,1238.6 L899.4,1238.0 L918.1,1244.3 L936.8,1244.3 L955.6,1250.9 L974.3,1257.4 L993.0,1257.4 L1011.7,1253.4 L1030.5,1245.2 L1049.2,1240.9 L1067.9,1239.7 L1086.6,1242.3 L1105.4,1235.1 L1124.1,1244.3 L1142.8,1239.0 L1161.5,1236.3 L1180.3,1234.3 L1199.0,1229.3 L1217.7,1229.3 L1236.4,1222.8 L1255.2,1215.6 L1273.9,1211.5 L1292.6,1210.9 L1311.3,1203.5 L1330.1,1205.5 L1348.8,1199.6 L1367.5,1194.4 L1386.2,1190.6 L1405.0,1177.1 L1423.7,1179.1 L1442.4,1176.1 L1461.1,1180.1 L1479.9,1182.1 L1498.6,1177.1 L1517.3,1171.2 L1536.0,1162.2 L1554.8,1157.3 L1573.5,1148.3 L1592.2,1148.3 L1610.9,1150.3 L1629.7,1147.3 L1648.4,1147.3 L1667.1,1147.3 L1685.8,1140.4 L1704.6,1133.5 L1723.3,1135.4 L1742.0,1144.4 L1760.7,1142.4 L1779.5,1139.4 L1798.2,1139.4 L1816.9,1130.5 L1835.6,1125.5 L1854.4,1122.5 L1873.1,1118.6 L1891.8,1115.2 L1910.5,1116.2 L1929.3,1109.2 L1948.0,1106.3 L1966.7,1101.3 L1985.4,1102.3 L2004.2,1110.3 L2022.9,1114.6 L2041.6,1113.1 L2060.3,1112.3 L2079.1,1113.7 L2097.8,1116.6 L2116.5,1119.4 L2135.2,1115.6 L2154.0,1111.9 L2172.7,1108.0 L2191.4,1107.1 L2210.1,1104.6 L2228.9,1104.6 L2247.6,1099.4 L2266.3,1100.9 L2285.0,1095.1 L2303.8,1092.3 L2322.5,1088.0 L2341.2,1086.6 L2359.9,1088.6 L2378.7,1093.7 L2397.4,1096.6 L2416.1,1091.4 L2434.8,1092.3 L2453.6,1094.6 L2472.3,1093.1 L2491.0,1102.3 L2509.7,1106.0 L2528.5,1111.4 L2547.2,1113.1 L2565.9,1114.6 L2584.6,1109.8 L2603.4,1101.9 L2622.1,1105.9 L2640.8,1097.9 L2659.5,1086.0 L2678.3,1076.5 L2697.0,1075.1 L2715.7,1062.2 L2734.4,1070.2 L2753.2,1075.1 L2771.9,1070.2 L2790.6,1070.2 L2809.3,1058.3 L2828.1,1050.3 L2846.8,1040.4 L2865.5,1038.0 L2884.2,1035.0 L2903.0,1032.1 L2921.7,1026.1 L2940.4,1021.2 L2959.1,1025.1 L2977.9,1027.1 L2996.6,1031.7 L3015.3,1032.1 L3034.0,1038.0 L3052.8,1043.0 L3071.5,1043.6 L3090.2,1046.9 L3108.9,1042.0 L3127.7,1038.0 L3146.4,1040.0 L3165.1,1040.0 L3183.8,1031.1 L3202.6,1031.1 L3221.3,1032.1 L3240.0,1037.0"/>
<path class="faint" d="M450.0,1194.8 L468.7,1218.7 L487.4,1231.0 L506.2,1231.5 L524.9,1245.4 L543.6,1256.3 L562.3,1250.4 L581.1,1248.4 L599.8,1238.5 L618.5,1241.5 L637.2,1244.4 L656.0,1238.5 L674.7,1237.5 L693.4,1240.5 L712.1,1245.4 L730.9,1236.5 L749.6,1242.5 L768.3,1240.5 L787.0,1248.4 L805.8,1249.4 L824.5,1259.3 L843.2,1257.3 L861.9,1259.3 L880.7,1268.3 L899.4,1263.3 L918.1,1269.2 L936.8,1268.3 L955.6,1272.0 L974.3,1285.9 L993.0,1287.9 L1011.7,1289.8 L1030.5,1274.0 L1049.2,1258.1 L1067.9,1257.1 L1086.6,1245.2 L1105.4,1244.2 L1124.1,1250.2 L1142.8,1248.2 L1161.5,1244.2 L1180.3,1242.2 L1199.0,1238.3 L1217.7,1242.2 L1236.4,1238.3 L1255.2,1235.3 L1273.9,1238.3 L1292.6,1233.3 L1311.3,1228.3 L1330.1,1228.3 L1348.8,1227.3 L1367.5,1227.3 L1386.2,1226.3 L1405.0,1215.4 L1423.7,1213.5 L1442.4,1214.8 L1461.1,1205.9 L1479.9,1209.8 L1498.6,1200.9 L1517.3,1198.9 L1536.0,1191.0 L1554.8,1181.1 L1573.5,1180.1 L1592.2,1177.1 L1610.9,1177.1 L1629.7,1179.1 L1648.4,1175.1 L1667.1,1170.2 L1685.8,1162.2 L1704.6,1160.2 L1723.3,1161.2 L1742.0,1166.2 L1760.7,1160.2 L1779.5,1161.2 L1798.2,1162.2 L1816.9,1163.2 L1835.6,1170.2 L1854.4,1170.2 L1873.1,1171.2 L1891.8,1164.2 L1910.5,1159.8 L1929.3,1154.9 L1948.0,1150.9 L1966.7,1159.8 L1985.4,1153.9 L2004.2,1156.9 L2022.9,1158.8 L2041.6,1155.9 L2060.3,1151.9 L2079.1,1146.0 L2097.8,1160.8 L2116.5,1164.8 L2135.2,1164.8 L2154.0,1167.8 L2172.7,1158.8 L2191.4,1157.9 L2210.1,1153.9 L2228.9,1151.5 L2247.6,1160.8 L2266.3,1164.8 L2285.0,1165.8 L2303.8,1151.9 L2322.5,1159.8 L2341.2,1156.3 L2359.9,1153.9 L2378.7,1146.0 L2397.4,1145.7 L2416.1,1131.4 L2434.8,1125.7 L2453.6,1137.1 L2472.3,1130.0 L2491.0,1132.9 L2509.7,1132.9 L2528.5,1128.6 L2547.2,1127.1 L2565.9,1121.4 L2584.6,1115.7 L2603.4,1112.9 L2622.1,1105.9"/>
<path class="faint" d="M450.0,1218.7 L468.7,1232.5 L487.4,1241.5 L506.2,1240.5 L524.9,1247.4 L543.6,1254.4 L562.3,1247.4 L581.1,1246.4 L599.8,1238.5 L618.5,1242.5 L637.2,1243.5 L656.0,1243.5 L674.7,1242.5 L693.4,1243.5 L712.1,1246.4 L730.9,1236.5 L749.6,1245.4 L768.3,1241.5 L787.0,1241.5 L805.8,1237.5 L824.5,1238.5 L843.2,1241.5 L861.9,1242.5 L880.7,1247.4 L899.4,1243.5 L918.1,1246.4 L936.8,1246.8 L955.6,1254.1 L974.3,1260.1 L993.0,1263.1 L1011.7,1264.0 L1030.5,1256.1 L1049.2,1246.2 L1067.9,1246.2 L1086.6,1242.2 L1105.4,1237.3 L1124.1,1251.2 L1142.8,1246.2 L1161.5,1251.2 L1180.3,1244.2 L1199.0,1239.2 L1217.7,1240.2 L1236.4,1237.3 L1255.2,1234.3 L1273.9,1233.3 L1292.6,1230.3 L1311.3,1226.3 L1330.1,1222.4 L1348.8,1216.4 L1367.5,1207.5 L1386.2,1211.5 L1405.0,1215.4 L1423.7,1215.4 L1442.4,1205.7 L1461.1,1206.3 L1479.9,1194.9 L1498.6,1191.4 L1517.3,1184.9 L1536.0,1175.4 L1554.8,1172.9 L1573.5,1173.7 L1592.2,1175.6 L1610.9,1179.1 L1629.7,1179.1 L1648.4,1173.4 L1667.1,1168.3 L1685.8,1158.3 L1704.6,1160.0 L1723.3,1161.4 L1742.0,1163.4 L1760.7,1160.6 L1779.5,1156.3 L1798.2,1149.1 L1816.9,1142.4 L1835.6,1154.3 L1854.4,1161.2 L1873.1,1168.2 L1891.8,1158.3 L1910.5,1164.8 L1929.3,1159.8 L1948.0,1155.9 L1966.7,1163.4 L1985.4,1156.9 L2004.2,1158.8 L2022.9,1157.9 L2041.6,1154.9 L2060.3,1156.9 L2079.1,1153.9 L2097.8,1163.8 L2116.5,1171.7 L2135.2,1170.2 L2154.0,1169.8 L2172.7,1160.8 L2191.4,1159.8 L2210.1,1164.8 L2228.9,1160.8 L2247.6,1169.8 L2266.3,1166.8 L2285.0,1175.7 L2303.8,1162.8 L2322.5,1164.8 L2341.2,1163.8 L2359.9,1165.8 L2378.7,1159.8 L2397.4,1137.1 L2416.1,1130.0 L2434.8,1127.1 L2453.6,1130.9 L2472.3,1131.4 L2491.0,1134.3 L2509.7,1135.7 L2528.5,1132.9 L2547.2,1132.9 L2565.9,1128.6 L2584.6,1124.3 L2603.4,1121.4 L2622.1,1120.0 L2640.8,1115.7 L2659.5,1111.4 L2678.3,1107.1 L2697.0,1114.3 L2715.7,1113.7 L2734.4,1110.0 L2753.2,1108.0 L2771.9,1104.3 L2790.6,1102.9 L2809.3,1106.3 L2828.1,1105.1 L2846.8,1105.7 L2865.5,1105.1 L2884.2,1108.0 L2903.0,1100.6 L2921.7,1097.7 L2940.4,1089.1 L2959.1,1090.0 L2977.9,1091.4 L2996.6,1092.9 L3015.3,1092.0 L3034.0,1090.9 L3052.8,1085.7 L3071.5,1078.6 L3090.2,1072.9 L3108.9,1070.0 L3127.7,1072.9 L3146.4,1071.4 L3165.1,1072.0 L3183.8,1066.6 L3202.6,1068.0 L3221.3,1069.1 L3240.0,1070.9"/>
<path class="faint" d="M2603.4,1121.4 L2622.1,1120.0 L2640.8,1115.7 L2659.5,1111.4 L2678.3,1107.1 L2697.0,1114.3 L2715.7,1113.7 L2734.4,1110.0 L2753.2,1108.0 L2771.9,1104.3 L2790.6,1102.9 L2809.3,1106.3 L2828.1,1105.1 L2846.8,1105.7 L2865.5,1105.1 L2884.2,1108.0 L2903.0,1100.6 L2921.7,1097.7 L2940.4,1089.1 L2959.1,1090.0 L2977.9,1091.4 L2996.6,1092.9 L3015.3,1092.0 L3034.0,1090.9 L3052.8,1085.7 L3071.5,1078.6 L3090.2,1072.9 L3108.9,1070.0"/>
<path class="faint" d="M450.0,970.0 L468.7,968.6 L487.4,970.9 L506.2,970.6 L524.9,974.3 L543.6,985.1 L562.3,980.9 L581.1,977.1 L599.8,973.4 L618.5,970.0 L637.2,971.4 L656.0,972.9 L674.7,970.6 L693.4,969.7 L712.1,968.9 L730.9,970.9 L749.6,964.3 L768.3,958.6 L787.0,964.9 L805.8,962.0 L824.5,960.6 L843.2,967.7 L861.9,963.4 L880.7,958.6 L899.4,952.9 L918.1,958.0 L936.8,962.9 L955.6,964.9 L974.3,967.7 L993.0,962.9 L1011.7,961.9 L1030.5,959.7 L1049.2,958.6 L1067.9,964.3 L1086.6,961.4 L1105.4,950.0 L1124.1,959.4 L1142.8,962.0 L1161.5,961.4 L1180.3,958.6 L1199.0,951.4 L1217.7,954.3 L1236.4,956.6 L1255.2,963.7 L1273.9,957.1 L1292.6,956.0 L1311.3,957.1 L1330.1,962.0 L1348.8,952.9 L1367.5,957.1 L1386.2,954.3 L1405.0,950.0 L1423.7,950.0 L1442.4,960.0 L1461.1,955.7 L1479.9,951.4 L1498.6,948.6 L1517.3,938.6 L1536.0,936.3 L1554.8,940.0 L1573.5,940.9 L1592.2,939.0 L1610.9,939.4 L1629.7,933.7 L1648.4,932.9 L1667.1,936.3 L1685.8,930.9 L1704.6,928.6 L1723.3,933.4 L1742.0,938.0 L1760.7,940.9 L1779.5,932.0 L1798.2,930.0 L1816.9,920.6 L1835.6,923.7 L1854.4,917.1 L1873.1,916.3 L1891.8,913.4 L1910.5,920.6 L1929.3,913.7 L1948.0,913.1 L1966.7,907.1 L1985.4,912.0 L2004.2,905.1 L2022.9,908.0 L2041.6,907.1 L2060.3,900.9 L2079.1,904.9 L2097.8,906.6 L2116.5,907.1 L2135.2,904.4 L2154.0,902.1 L2172.7,900.9 L2191.4,897.1 L2210.1,892.9 L2228.9,892.3 L2247.6,894.9 L2266.3,892.3 L2285.0,885.7 L2303.8,877.7 L2322.5,874.3 L2341.2,877.7 L2359.9,874.3 L2378.7,874.3 L2397.4,875.1 L2416.1,877.7 L2434.8,873.4 L2453.6,872.3 L2472.3,861.4 L2491.0,867.1 L2509.7,866.3 L2528.5,868.0 L2547.2,868.6 L2565.9,864.3 L2584.6,860.0 L2603.4,862.9 L2622.1,862.3 L2640.8,859.4 L2659.5,857.1 L2678.3,853.6 L2697.0,858.6 L2715.7,858.9 L2734.4,859.4 L2753.2,860.0 L2771.9,862.0 L2790.6,855.1 L2809.3,842.0 L2828.1,841.4 L2846.8,842.9 L2865.5,842.9 L2884.2,844.3 L2903.0,838.6 L2921.7,836.6 L2940.4,836.3 L2959.1,834.3 L2977.9,832.9 L2996.6,835.7 L3015.3,835.7 L3034.0,838.6 L3052.8,836.6 L3071.5,835.7 L3090.2,831.4 L3108.9,826.3 L3127.7,827.1 L3146.4,821.4 L3165.1,818.6 L3183.8,818.0 L3202.6,821.4 L3221.3,822.9 L3240.0,811.4"/>
<path class="faint" d="M450.0,970.0 L468.7,968.6 L487.4,970.9 L506.2,970.6 L524.9,974.3 L543.6,985.1 L562.3,980.9 L581.1,977.1 L599.8,973.4 L618.5,970.0 L637.2,971.4 L656.0,972.9 L674.7,970.6 L693.4,969.7 L712.1,968.9 L730.9,970.9 L749.6,964.3 L768.3,958.6 L787.0,964.9 L805.8,962.0 L824.5,960.6 L843.2,967.7 L861.9,963.4 L880.7,958.6 L899.4,952.9 L918.1,958.0 L936.8,962.9 L955.6,964.9 L974.3,967.7 L993.0,962.9 L1011.7,961.9 L1030.5,959.7 L1049.2,958.6 L1067.9,964.3 L1086.6,961.4 L1105.4,950.0 L1124.1,959.4 L1142.8,962.0 L1161.5,961.4 L1180.3,958.6 L1199.0,951.4 L1217.7,954.3 L1236.4,956.6 L1255.2,963.7 L1273.9,957.1 L1292.6,956.0 L1311.3,957.1 L1330.1,962.0 L1348.8,952.9 L1367.5,957.1 L1386.2,954.3 L1405.0,950.0 L1423.7,950.0 L1442.4,960.0 L1461.1,955.7 L1479.9,951.4 L1498.6,948.6 L1517.3,938.6 L1536.0,936.3 L1554.8,940.0 L1573.5,940.9 L1592.2,939.0 L1610.9,939.4 L1629.7,933.7 L1648.4,932.9 L1667.1,936.3 L1685.8,930.9 L1704.6,928.6 L1723.3,933.4 L1742.0,938.0 L1760.7,940.9 L1779.5,932.0 L1798.2,930.0 L1816.9,920.6 L1835.6,923.7 L1854.4,917.1 L1873.1,916.3 L1891.8,913.4 L1910.5,920.6 L1929.3,913.7 L1948.0,913.1 L1966.7,907.1 L1985.4,912.0 L2004.2,905.1 L2022.9,908.0 L2041.6,907.1 L2060.3,900.9 L2079.1,904.9 L2097.8,906.6 L2116.5,907.1 L2135.2,904.4 L2154.0,902.1 L2172.7,900.9 L2191.4,897.1 L2210.1,892.9 L2228.9,892.3 L2247.6,894.9 L2266.3,892.3 L2285.0,885.7 L2303.8,877.7 L2322.5,874.3 L2341.2,877.7 L2359.9,874.3 L2378.7,874.3 L2397.4,875.1 L2416.1,877.7 L2434.8,873.4 L2453.6,872.3 L2472.3,861.4 L2491.0,867.1 L2509.7,866.3 L2528.5,868.0 L2547.2,868.6 L2565.9,864.3 L2584.6,860.0 L2603.4,862.9 L2622.1,862.3 L2640.8,859.4 L2659.5,857.1 L2678.3,853.6 L2697.0,858.6 L2715.7,858.9 L2734.4,859.4 L2753.2,860.0 L2771.9,862.0 L2790.6,855.1 L2809.3,842.0 L2828.1,841.4 L2846.8,842.9 L2865.5,842.9 L2884.2,844.3 L2903.0,838.6 L2921.7,836.6 L2940.4,836.3 L2959.1,834.3 L2977.9,832.9 L2996.6,835.7 L3015.3,835.7 L3034.0,838.6 L3052.8,836.6 L3071.5,841.0 L3090.2,835.9 L3108.9,832.4 L3127.7,830.1 L3146.4,831.6 L3165.1,827.6 L3183.8,827.3 L3202.6,827.3 L3221.3,826.1 L3240.0,823.3"/>
<path class="faint" d="M450.0,1004.5 L468.7,1004.2 L487.4,1006.5 L506.2,1007.3 L524.9,1013.6 L543.6,1023.9 L562.3,1023.6 L581.1,1025.9 L599.8,1019.9 L618.5,1017.3 L637.2,1011.3 L656.0,1010.8 L674.7,1010.2 L693.4,1008.5 L712.1,1002.2 L730.9,1003.9 L749.6,1007.1 L768.3,1007.6 L787.0,1004.2 L805.8,1004.2 L824.5,1004.2 L843.2,1002.8 L861.9,1006.8 L880.7,1004.5 L899.4,1001.3 L918.1,1002.8 L936.8,996.5 L955.6,994.5 L974.3,999.3 L993.0,993.6 L1011.7,996.2 L1030.5,993.3 L1049.2,992.2 L1067.9,990.2 L1086.6,990.8 L1105.4,982.2 L1124.1,980.8 L1142.8,975.9 L1161.5,981.3 L1180.3,981.6 L1199.0,981.3 L1217.7,989.3 L1236.4,984.2 L1255.2,986.5 L1273.9,987.9 L1292.6,990.8 L1311.3,983.1 L1330.1,979.9 L1348.8,974.2 L1367.5,977.9 L1386.2,976.5 L1405.0,974.2 L1423.7,974.2 L1442.4,979.9 L1461.1,977.9 L1479.9,979.3 L1498.6,982.8 L1517.3,983.6 L1536.0,987.9 L1554.8,996.4 L1573.5,992.2 L1592.2,995.2 L1610.9,991.6 L1629.7,994.4 L1648.4,988.0 L1667.1,989.4 L1685.8,988.5 L1704.6,988.5 L1723.3,986.5 L1742.0,987.1 L1760.7,990.2 L1779.5,981.3 L1798.2,980.8 L1816.9,975.6 L1835.6,972.2 L1854.4,962.8 L1873.1,960.2 L1891.8,964.2 L1910.5,965.6 L1929.3,956.5 L1948.0,955.1 L1966.7,952.2 L1985.4,948.5 L2004.2,949.9 L2022.9,950.8 L2041.6,949.3 L2060.3,939.9 L2079.1,935.1 L2097.8,931.3 L2116.5,925.1 L2135.2,929.6 L2154.0,930.1 L2172.7,927.9 L2191.4,929.6 L2210.1,928.8 L2228.9,927.3 L2247.6,927.9 L2266.3,924.5 L2285.0,920.2 L2303.8,914.2 L2322.5,910.2 L2341.2,904.5 L2359.9,909.3 L2378.7,910.8 L2397.4,916.5 L2416.1,919.9 L2434.8,913.6 L2453.6,906.5 L2472.3,904.2 L2491.0,911.3 L2509.7,909.9 L2528.5,912.8 L2547.2,914.5 L2565.9,906.5 L2584.6,899.3 L2603.4,898.8 L2622.1,896.5 L2640.8,898.8 L2659.5,895.1 L2678.3,899.6 L2697.0,895.6 L2715.7,895.6 L2734.4,899.9 L2753.2,893.6 L2771.9,886.5 L2790.6,882.2 L2809.3,872.8 L2828.1,875.9 L2846.8,865.1 L2865.5,862.2 L2884.2,865.1 L2903.0,867.1 L2921.7,858.5 L2940.4,854.2 L2959.1,852.2 L2977.9,847.3 L2996.6,847.1 L3015.3,848.8 L3034.0,845.9 L3052.8,839.9 L3071.5,842.2 L3090.2,837.1 L3108.9,833.6 L3127.7,831.3 L3146.4,832.8 L3165.1,828.8 L3183.8,828.5 L3202.6,828.5 L3221.3,827.3 L3240.0,824.5"/>
<path class="bound" d="M450.0,1215.7 L468.7,1224.3 L487.4,1231.4 L506.2,1227.1 L524.9,1220.6 L543.6,1225.7 L562.3,1221.4 L581.1,1221.4 L599.8,1225.1 L618.5,1228.6 L637.2,1234.9 L656.0,1232.9 L674.7,1230.9 L693.4,1232.9 L712.1,1232.3 L730.9,1231.4 L749.6,1234.3 L768.3,1236.6 L787.0,1246.3 L805.8,1246.3 L824.5,1242.9 L843.2,1238.0 L861.9,1240.0 L880.7,1238.6 L899.4,1240.0 L918.1,1246.3 L936.8,1246.3 L955.6,1252.9 L974.3,1259.4 L993.0,1259.4 L1011.7,1255.4 L1030.5,1250.3 L1049.2,1242.9 L1067.9,1241.4 L1086.6,1244.3 L1105.4,1237.1 L1124.1,1246.3 L1142.8,1246.6 L1161.5,1244.3 L1180.3,1238.6 L1199.0,1235.1 L1217.7,1237.7 L1236.4,1240.0 L1255.2,1235.1 L1273.9,1227.1 L1292.6,1230.9 L1311.3,1225.7 L1330.1,1220.6 L1348.8,1213.4 L1367.5,1204.9 L1386.2,1209.1 L1405.0,1213.4 L1423.7,1213.4 L1442.4,1203.7 L1461.1,1204.3 L1479.9,1192.9 L1498.6,1189.4 L1517.3,1182.9 L1536.0,1173.4 L1554.8,1170.9 L1573.5,1171.7 L1592.2,1173.6 L1610.9,1177.1 L1629.7,1177.1 L1648.4,1171.4 L1667.1,1166.3 L1685.8,1156.3 L1704.6,1158.0 L1723.3,1159.4 L1742.0,1161.4 L1760.7,1158.6 L1779.5,1154.3 L1798.2,1147.1 L1816.9,1142.3 L1835.6,1132.0 L1854.4,1134.9 L1873.1,1134.3 L1891.8,1133.4 L1910.5,1132.9 L1929.3,1131.4 L1948.0,1125.7 L1966.7,1115.1 L1985.4,1112.9 L2004.2,1112.3 L2022.9,1116.6 L2041.6,1115.1 L2060.3,1114.3 L2079.1,1115.7 L2097.8,1118.6 L2116.5,1121.4 L2135.2,1117.6 L2154.0,1113.9 L2172.7,1110.0 L2191.4,1109.1 L2210.1,1106.6 L2228.9,1106.6 L2247.6,1101.4 L2266.3,1102.9 L2285.0,1097.1 L2303.8,1094.3 L2322.5,1090.0 L2341.2,1088.6 L2359.9,1090.6 L2378.7,1095.7 L2397.4,1098.6 L2416.1,1093.4 L2434.8,1094.3 L2453.6,1096.6 L2472.3,1095.1 L2491.0,1104.3 L2509.7,1108.0 L2528.5,1113.4 L2547.2,1115.1 L2565.9,1116.6 L2584.6,1114.3 L2603.4,1118.0 L2622.1,1118.6 L2640.8,1117.1 L2659.5,1112.9 L2678.3,1108.6 L2697.0,1102.6 L2715.7,1092.3 L2734.4,1095.7 L2753.2,1098.6 L2771.9,1090.0 L2790.6,1090.0 L2809.3,1085.1 L2828.1,1085.1 L2846.8,1080.6 L2865.5,1084.3 L2884.2,1076.6 L2903.0,1077.1 L2921.7,1074.3 L2940.4,1079.4 L2959.1,1083.4 L2977.9,1082.3 L2996.6,1080.6 L3015.3,1076.3 L3034.0,1077.7 L3052.8,1071.4 L3071.5,1070.0 L3090.2,1070.9 L3108.9,1065.7 L3127.7,1054.9 L3146.4,1054.3 L3165.1,1053.7 L3183.8,1052.3 L3202.6,1048.6 L3221.3,1046.6 L3240.0,1047.1"/>
<path class="bound" d="M450.0,1002.3 L468.7,1002.0 L487.4,1004.3 L506.2,1005.1 L524.9,1011.4 L543.6,1021.7 L562.3,1021.4 L581.1,1023.7 L599.8,1017.7 L618.5,1015.1 L637.2,1009.1 L656.0,1008.6 L674.7,1008.0 L693.4,1006.3 L712.1,1000.0 L730.9,1001.7 L749.6,1004.9 L768.3,1005.4 L787.0,1002.0 L805.8,1002.0 L824.5,1002.0 L843.2,1000.6 L861.9,1004.6 L880.7,1002.3 L899.4,999.1 L918.1,1000.6 L936.8,994.3 L955.6,992.3 L974.3,997.1 L993.0,991.4 L1011.7,994.0 L1030.5,991.1 L1049.2,990.0 L1067.9,988.0 L1086.6,988.6 L1105.4,980.0 L1124.1,978.6 L1142.8,973.7 L1161.5,979.1 L1180.3,979.4 L1199.0,979.1 L1217.7,987.1 L1236.4,982.0 L1255.2,984.3 L1273.9,985.7 L1292.6,988.6 L1311.3,980.9 L1330.1,977.7 L1348.8,972.0 L1367.5,975.7 L1386.2,974.3 L1405.0,972.0 L1423.7,972.0 L1442.4,977.7 L1461.1,975.7 L1479.9,977.1 L1498.6,980.6 L1517.3,981.4 L1536.0,985.7 L1554.8,994.2 L1573.5,990.0 L1592.2,993.0 L1610.9,989.4 L1629.7,992.2 L1648.4,985.8 L1667.1,987.2 L1685.8,986.3 L1704.6,986.3 L1723.3,984.3 L1742.0,984.9 L1760.7,988.0 L1779.5,979.1 L1798.2,978.6 L1816.9,973.4 L1835.6,970.0 L1854.4,960.6 L1873.1,958.0 L1891.8,962.0 L1910.5,963.4 L1929.3,954.3 L1948.0,952.9 L1966.7,950.0 L1985.4,946.3 L2004.2,947.7 L2022.9,948.6 L2041.6,947.1 L2060.3,937.7 L2079.1,932.9 L2097.8,929.1 L2116.5,922.9 L2135.2,927.4 L2154.0,927.9 L2172.7,925.7 L2191.4,927.4 L2210.1,926.6 L2228.9,925.1 L2247.6,925.7 L2266.3,922.3 L2285.0,918.0 L2303.8,912.0 L2322.5,908.0 L2341.2,902.3 L2359.9,907.1 L2378.7,908.6 L2397.4,914.3 L2416.1,917.7 L2434.8,911.4 L2453.6,904.3 L2472.3,902.0 L2491.0,909.1 L2509.7,907.7 L2528.5,910.6 L2547.2,912.3 L2565.9,904.3 L2584.6,897.1 L2603.4,896.6 L2622.1,894.3 L2640.8,896.6 L2659.5,892.9 L2678.3,897.4 L2697.0,893.4 L2715.7,893.4 L2734.4,897.7 L2753.2,891.4 L2771.9,884.3 L2790.6,880.0 L2809.3,870.6 L2828.1,873.7 L2846.8,862.9 L2865.5,860.0 L2884.2,862.9 L2903.0,864.9 L2921.7,856.3 L2940.4,852.0 L2959.1,850.0 L2977.9,845.1 L2996.6,844.9 L3015.3,846.6 L3034.0,843.7 L3052.8,837.7 L3071.5,840.0 L3090.2,834.9 L3108.9,831.4 L3127.7,829.1 L3146.4,830.6 L3165.1,826.6 L3183.8,826.3 L3202.6,826.3 L3221.3,825.1 L3240.0,822.3"/>
<path d="M450.0,1122.3 L468.7,1115.7 L487.4,1124.3 L506.2,1122.0 L524.9,1119.1 L543.6,1126.9 L562.3,1125.7 L581.1,1122.0 L599.8,1127.4 L618.5,1123.4 L637.2,1118.6 L656.0,1121.4 L674.7,1119.4 L693.4,1118.6 L712.1,1115.1 L730.9,1117.1 L749.6,1122.3 L768.3,1120.0 L787.0,1117.1 L805.8,1115.7 L824.5,1117.7 L843.2,1113.4 L861.9,1112.9 L880.7,1111.4 L899.4,1113.7 L918.1,1120.9 L936.8,1124.3 L955.6,1126.3 L974.3,1128.0 L993.0,1124.9 L1011.7,1123.6 L1030.5,1123.3 L1049.2,1124.3 L1067.9,1122.9 L1086.6,1124.3 L1105.4,1121.4 L1124.1,1115.7 L1142.8,1112.0 L1161.5,1108.6 L1180.3,1107.7 L1199.0,1107.7 L1217.7,1100.6 L1236.4,1100.6 L1255.2,1105.7 L1273.9,1103.7 L1292.6,1100.6 L1311.3,1097.7 L1330.1,1097.1 L1348.8,1095.1 L1367.5,1093.7 L1386.2,1091.4 L1405.0,1092.0 L1423.7,1094.3 L1442.4,1088.6 L1461.1,1086.3 L1479.9,1085.7 L1498.6,1085.1 L1517.3,1083.4 L1536.0,1083.4 L1554.8,1085.1 L1573.5,1084.7 L1592.2,1087.1 L1610.9,1085.7 L1629.7,1081.4 L1648.4,1072.9 L1667.1,1073.7 L1685.8,1074.9 L1704.6,1076.0 L1723.3,1077.7 L1742.0,1076.6 L1760.7,1077.7 L1779.5,1078.6 L1798.2,1072.3 L1816.9,1070.0 L1835.6,1065.7 L1854.4,1061.4 L1873.1,1060.0 L1891.8,1057.1 L1910.5,1055.7 L1929.3,1052.9 L1948.0,1051.4 L1966.7,1048.6 L1985.4,1044.3 L2004.2,1044.3 L2022.9,1041.4 L2041.6,1037.7 L2060.3,1032.0 L2079.1,1034.3 L2097.8,1030.9 L2116.5,1029.1 L2135.2,1030.1 L2154.0,1031.4 L2172.7,1033.4 L2191.4,1032.3 L2210.1,1031.4 L2228.9,1027.7 L2247.6,1030.0 L2266.3,1020.0 L2285.0,1013.4 L2303.8,1007.1 L2322.5,1003.7 L2341.2,997.1 L2359.9,1000.0 L2378.7,1000.0 L2397.4,1002.9 L2416.1,1006.3 L2434.8,1000.9 L2453.6,991.4 L2472.3,987.1 L2491.0,993.4 L2509.7,990.9 L2528.5,996.6 L2547.2,998.0 L2565.9,987.1 L2584.6,980.9 L2603.4,980.0 L2622.1,978.6 L2640.8,977.7 L2659.5,974.9 L2678.3,974.3 L2697.0,974.3 L2715.7,971.4 L2734.4,973.7 L2753.2,974.9 L2771.9,970.9 L2790.6,967.1 L2809.3,962.9 L2828.1,960.9 L2846.8,967.7 L2865.5,972.3 L2884.2,971.4 L2903.0,973.4 L2921.7,967.1 L2940.4,965.7 L2959.1,963.4 L2977.9,962.3 L2996.6,962.9 L3015.3,966.3 L3034.0,968.6 L3052.8,963.4 L3071.5,960.0 L3090.2,955.7 L3108.9,953.4 L3127.7,956.6 L3146.4,957.1 L3165.1,958.6 L3183.8,965.7 L3202.6,963.4 L3221.3,964.9 L3240.0,962.3" stroke="#000" stroke-width="8.33" fill="none" stroke-linejoin="round" stroke-linecap="square"/>
<path d="M730.9,1028.0 L749.6,1044.3 L768.3,1044.9 L787.0,1061.4 L805.8,1068.0 L824.5,1074.9 L843.2,1078.0 L861.9,1079.1 L880.7,1074.3 L899.4,1068.0 L918.1,1061.4 L936.8,1055.7 L955.6,1053.4 L974.3,1046.3 L993.0,1045.1 L1011.7,1049.7 L1030.5,1052.4 L1049.2,1048.6 L1067.9,1039.1 L1086.6,1034.3 L1105.4,1024.3 L1124.1,1024.9 L1142.8,1029.4 L1161.5,1033.4 L1180.3,1033.4 L1199.0,1027.1 L1217.7,1029.4 L1236.4,1026.6 L1255.2,1025.7 L1273.9,1025.7 L1292.6,1016.6 L1311.3,1005.7 L1330.1,1004.9 L1348.8,992.9 L1367.5,986.3 L1386.2,978.0 L1405.0,972.0 L1423.7,967.1 L1442.4,967.1 L1461.1,970.0 L1479.9,973.7 L1498.6,977.1 L1517.3,975.7 L1536.0,982.9 L1554.8,980.9 L1573.5,972.4 L1592.2,967.4 L1610.9,970.0 L1629.7,981.0" stroke="#008000" stroke-width="12.5" fill="none" stroke-linejoin="round" stroke-linecap="square"/>
<path class="grid" d="M618.52,1837.5 V210.0"/>
<path class="grid" d="M993.02,1837.5 V210.0"/>
<path class="grid" d="M1367.52,1837.5 V210.0"/>
<path class="grid" d="M1742.01,1837.5 V210.0"/>
<path class="grid" d="M2116.51,1837.5 V210.0"/>
<path class="grid" d="M2491.01,1837.5 V210.0"/>
<path class="grid" d="M2865.50,1837.5 V210.0"/>
<path class="grid" d="M450.0,1430.62 H3240.0"/>
<path class="grid" d="M450.0,1023.75 H3240.0"/>
<path class="grid" d="M450.0,616.88 H3240.0"/>
</g>
<path class="tick" d="M618.52,1837.5 v-16.7 M618.52,210.0 v16.7"/>
<path class="tick" d="M993.02,1837.5 v-16.7 M993.02,210.0 v16.7"/>
<path class="tick" d="M1367.52,1837.5 v-16.7 M1367.52,210.0 v16.7"/>
<path class="tick" d="M1742.01,1837.5 v-16.7 M1742.01,210.0 v16.7"/>
<path class="tick" d="M2116.51,1837.5 v-16.7 M2116.51,210.0 v16.7"/>
<path class="tick" d="M2491.01,1837.5 v-16.7 M2491.01,210.0 v16.7"/>
<path class="tick" d="M2865.50,1837.5 v-16.7 M2865.50,210.0 v16.7"/>
<path class="tick" d="M3240.00,1837.5 v-16.7 M3240.00,210.0 v16.7"/>
<path class="tick" d="M450.0,1837.50 h16.7 M3240.0,1837.50 h-16.7"/>
<path class="tick" d="M450.0,1430.62 h16.7 M3240.0,1430.62 h-16.7"/>
<path class="tick" d="M450.0,1023.75 h16.7 M3240.0,1023.75 h-16.7"/>
<path class="tick" d="M450.0,616.88 h16.7 M3240.0,616.88 h-16.7"/>
<path class="tick" d="M450.0,210.00 h16.7 M3240.0,210.00 h-16.7"/>
<rect x="450" y="210" width="2790" height="1627.5" fill="none" stroke="#000" stroke-width="4.17"/>
<text class="t14" x="617.5" y="1896.3" text-anchor="middle">1960</text>
<text class="t14" x="992.0" y="1896.3" text-anchor="middle">1980</text>
<text class="t14" x="1366.5" y="1896.3" text-anchor="middle">2000</text>
<text class="t14" x="1741.0" y="1896.3" text-anchor="middle">2020</text>
<text class="t14" x="2115.5" y="1896.3" text-anchor="middle">2040</text>
<text class="t14" x="2490.0" y="1896.3" text-anchor="middle">2060</text>
<text class="t14" x="2864.5" y="1896.3" text-anchor="middle">2080</text>
<text class="t14" x="3239.0" y="1896.3" text-anchor="middle">2100</text>
<text class="t14" x="434" y="1851.8" text-anchor="end">200</text>
<text class="t14" x="434" y="1444.9" text-anchor="end">250</text>
<text class="t14" x="434" y="1038.0" text-anchor="end">300</text>
<text class="t14" x="434" y="631.2" text-anchor="end">350</text>
<text class="t14" x="434" y="224.3" text-anchor="end">400</text>
<text class="t16" x="1845" y="188.5" text-anchor="middle">Dobele.Apr</text>
<text class="t14" x="1845" y="1968" text-anchor="middle">Gads</text>
<g transform="translate(306.5,1634) rotate(-90)"><text class="t14" x="0" y="0">Garo viļņu radiācija uz horizontālas virsmas,</text><text class="t14" font-style="italic" transform="translate(1059,0) scale(1.18,1.05)">W</text><text font-size="82" transform="translate(1119,12)">/</text><text class="t14" font-style="italic" transform="translate(1144.3,0) scale(1.30,1.07)">m</text><text font-size="40.8" transform="translate(1201,-22.5) scale(0.88,1)">2</text></g>
<rect x="2615.1" y="245" width="589.7" height="416.8" fill="#fff" stroke="#000" stroke-width="4.17"/>
<path d="M2662,297.6 H2764" stroke="#808080" stroke-width="4.17" fill="none"/>
<path d="M2662,396.8 H2764" stroke="#808080" stroke-width="4.17" fill="none"/>
<path d="M2659.8,496 H2766.8" stroke="#000" stroke-width="8.33" fill="none"/>
<path d="M2657.8,595.4 H2768.7" stroke="#008000" stroke-width="12.5" fill="none"/>
<text class="t16" x="2839" y="321.0">13%</text>
<text class="t16" x="2839" y="420.8">87%</text>
<text class="t16" x="2839" y="520.6">Mediāna</text>
<text class="t16" x="2839" y="620.4">Novērojumi</text>
</svg></body></html>
